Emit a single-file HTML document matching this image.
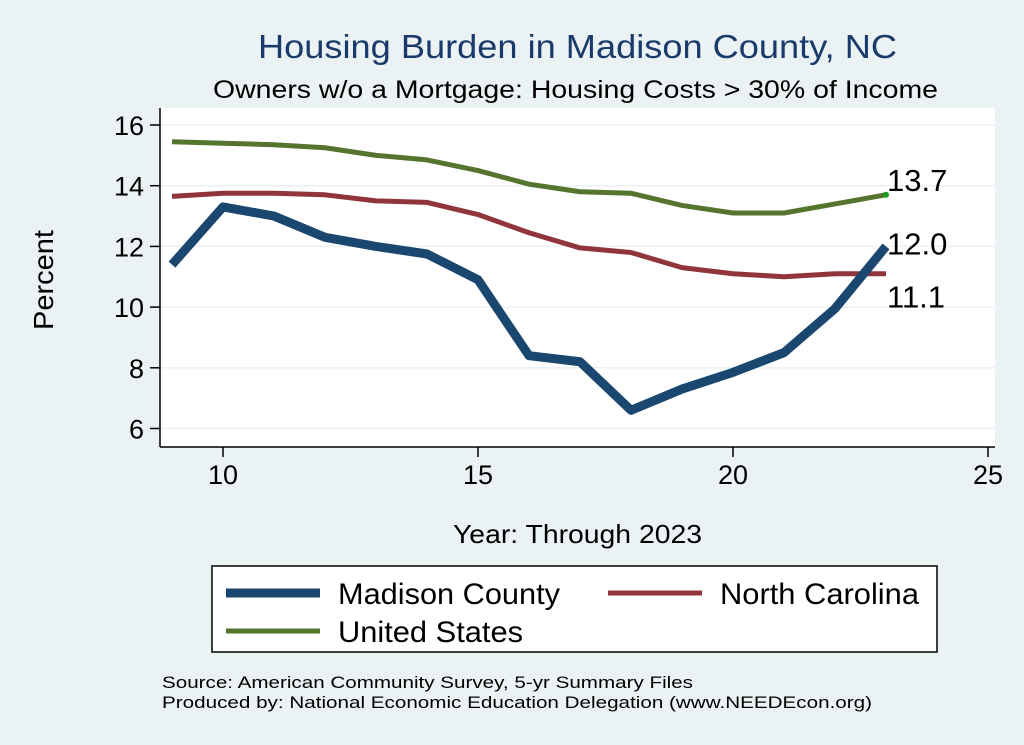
<!DOCTYPE html>
<html><head><meta charset="utf-8"><style>
body{margin:0;background:#eaf2f3;}
svg{display:block;font-family:"Liberation Sans",Arial,sans-serif;}
</style></head><body>
<svg width="1024" height="745" viewBox="0 0 1024 745">
<rect x="0" y="0" width="1024" height="745" fill="#eaf2f3"/>
<text x="258" y="58" font-size="33" textLength="639" lengthAdjust="spacingAndGlyphs" fill="#1a3a6b">Housing Burden in Madison County, NC</text>
<text x="213" y="98" font-size="25" textLength="725" lengthAdjust="spacingAndGlyphs" fill="#000">Owners w/o a Mortgage: Housing Costs &gt; 30% of Income</text>
<rect x="160" y="108" width="835" height="339" fill="#fff"/>
<g id="grid"></g>
<g id="axes"></g>
<g id="series"></g>
<text transform="translate(53,280) rotate(-90)" font-size="28" textLength="100" lengthAdjust="spacingAndGlyphs" text-anchor="middle">Percent</text>
<text x="453" y="543" font-size="26" textLength="249" lengthAdjust="spacingAndGlyphs">Year: Through 2023</text>
<rect x="212" y="566" width="725" height="86" fill="#fff" stroke="#000" stroke-width="1.5"/>
<g><line x1="226" y1="593" x2="320" y2="593" stroke="#1a476f" stroke-width="9"/><text x="338" y="604" font-size="30" textLength="222" lengthAdjust="spacingAndGlyphs">Madison County</text></g>
<g><line x1="608" y1="593" x2="702" y2="593" stroke="#90353b" stroke-width="5"/><text x="720" y="604" font-size="30" textLength="199" lengthAdjust="spacingAndGlyphs">North Carolina</text></g>
<g><line x1="226" y1="631" x2="320" y2="631" stroke="#55752f" stroke-width="5"/><text x="338" y="642" font-size="30" textLength="185" lengthAdjust="spacingAndGlyphs">United States</text></g>
<text x="162" y="688" font-size="17" textLength="531" lengthAdjust="spacingAndGlyphs">Source: American Community Survey, 5-yr Summary Files</text>
<text x="162" y="708" font-size="17" textLength="710" lengthAdjust="spacingAndGlyphs">Produced by: National Economic Education Delegation (www.NEEDEcon.org)</text>
</svg>
<script>
const years=[9,10,11,12,13,14,15,16,17,18,19,20,21,22,23];
const madison=[11.4,13.3,13.0,12.3,12.0,11.75,10.9,8.4,8.2,6.6,7.3,7.85,8.5,9.95,12.0];
const nc=[13.65,13.75,13.75,13.7,13.5,13.45,13.05,12.45,11.95,11.8,11.3,11.1,11.0,11.1,11.1];
const us=[15.45,15.4,15.35,15.25,15.0,14.85,14.5,14.05,13.8,13.75,13.35,13.1,13.1,13.4,13.7];
const xTicks=[10,15,20,25];
const yTicks=[6,8,10,12,14,16];
const NS="http://www.w3.org/2000/svg";
function X(v){return 223+(v-10)*51;}
function Y(v){return 125+(16-v)*30.35;}
function mk(tag,attrs,parent){const e=document.createElementNS(NS,tag);for(const k in attrs)e.setAttribute(k,attrs[k]);parent.appendChild(e);return e;}
const grid=document.getElementById('grid'),axes=document.getElementById('axes'),ser=document.getElementById('series');
yTicks.forEach(t=>{
 const g=mk('line',{x1:160,x2:995,y1:Y(t),y2:Y(t),stroke:'#eaf2f3','stroke-width':1.5},grid);
 
 
 const tk=mk('line',{x1:150,x2:160,y1:Y(t),y2:Y(t),stroke:'#000','stroke-width':1.5},axes);
 
 
 const lb=mk('text',{x:144,y:Y(t)+10,'font-size':27,'text-anchor':'end'},axes);
 lb.textContent=t;
 
 
});
xTicks.forEach(t=>{
 const tk=mk('line',{x1:X(t),x2:X(t),y1:447,y2:457,stroke:'#000','stroke-width':1.5},axes);
 
 
 const lb=mk('text',{x:X(t),y:484,'font-size':27,'text-anchor':'middle'},axes);
 lb.textContent=t;
 
 
});
const ya=mk('line',{x1:160,x2:160,y1:108,y2:447,stroke:'#000','stroke-width':1.5},axes);


const xa=mk('line',{x1:160,x2:995,y1:447,y2:447,stroke:'#000','stroke-width':1.5},axes);


function line(vals,color,w,name){
 const p=mk('polyline',{points:vals.map((v,i)=>X(years[i])+','+Y(v)).join(' '),fill:'none',stroke:color,'stroke-width':w,'stroke-linejoin':'round'},ser);
 
 
}
line(us,'#55752f',5,'us-line');
line(nc,'#90353b',5,'nc-line');
line(madison,'#1a476f',9,'madison-line');
const last=years.length-1;
const d=mk('circle',{cx:X(years[last]),cy:Y(us[last]),r:3,fill:'#1a9a1a'},ser);


[[us,-4,'us-end-label'],[madison,8,'madison-end-label'],[nc,34,'nc-end-label']].forEach(([s,dy,n])=>{
 const t=mk('text',{x:X(years[last])+1,y:Y(s[last])+dy,'font-size':31},ser);
 t.textContent=s[last].toFixed(1);
 
 
});
</script>
</body></html>
